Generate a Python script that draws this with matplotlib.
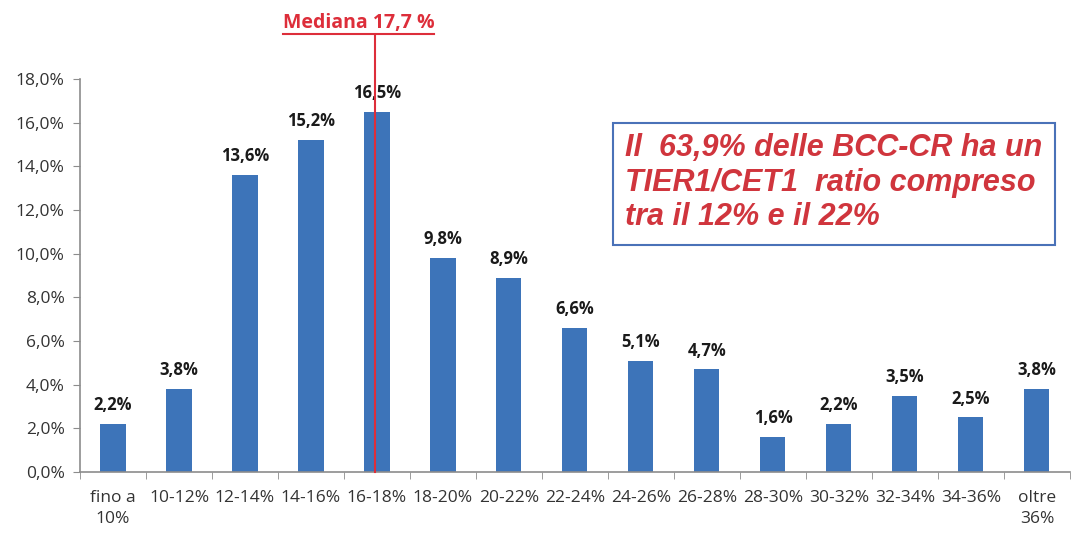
import matplotlib
matplotlib.use("Agg")
import matplotlib.pyplot as plt
from matplotlib.ticker import FixedLocator

plt.rcParams['font.family'] = ['Open Sans', 'DejaVu Sans']

categorie = ['fino a\n10%', '10-12%', '12-14%', '14-16%', '16-18%', '18-20%', '20-22%',
             '22-24%', '24-26%', '26-28%', '28-30%', '30-32%', '32-34%', '34-36%', 'oltre\n36%']
quote = [2.2, 3.8, 13.6, 15.2, 16.5, 9.8, 8.9, 6.6, 5.1, 4.7, 1.6, 2.2, 3.5, 2.5, 3.8]
etichette = ['2,2%', '3,8%', '13,6%', '15,2%', '16,5%', '9,8%', '8,9%', '6,6%', '5,1%',
             '4,7%', '1,6%', '2,2%', '3,5%', '2,5%', '3,8%']
y_ticks = [0, 2, 4, 6, 8, 10, 12, 14, 16, 18]
y_labels = ['0,0%', '2,0%', '4,0%', '6,0%', '8,0%', '10,0%', '12,0%', '14,0%', '16,0%', '18,0%']
mediana_pos = 3.97   # posizione della linea della mediana (classe 16-18%)
mediana_txt = 'Mediana 17,7 %'
box_txt = 'Il  63,9% delle BCC-CR ha un\nTIER1/CET1  ratio compreso\ntra il 12% e il 22%'

blu = '#3d74b9'
rosso = '#dd2e3a'
grigio = '#8c8c8c'

fig = plt.figure(figsize=(10.84, 5.33), dpi=100)
ax = fig.add_axes([0.0738, 0.1144, 0.9132, 0.7376])

x = range(len(categorie))
ax.bar(x, quote, width=0.38, color=blu, zorder=2)

for xi, v, lab in zip(x, quote, etichette):
    ax.annotate(lab, (xi, v), xytext=(0, 7), textcoords='offset points',
                ha='center', va='bottom', fontsize=12, fontweight='bold', color='#1a1a1a')

ax.set_xlim(-0.5, len(categorie) - 0.5)
ax.set_ylim(0, 18)
ax.set_yticks(y_ticks)
ax.set_yticklabels(y_labels, fontsize=12.5, color='#333333')
ax.set_xticks(list(x))
ax.set_xticklabels(categorie, fontsize=12.5, color='#333333', linespacing=1.4)
ax.xaxis.set_minor_locator(FixedLocator([i - 0.5 for i in range(len(categorie) + 1)]))
ax.tick_params(axis='x', which='major', length=0, pad=13)
ax.tick_params(axis='x', which='minor', length=5, color=grigio, direction='out')
ax.tick_params(axis='y', length=5, color=grigio, direction='out', pad=6)

for s in ['top', 'right']:
    ax.spines[s].set_visible(False)
for s in ['left', 'bottom']:
    ax.spines[s].set_color(grigio)
    ax.spines[s].set_linewidth(1.2)

# linea della mediana
ax.plot([mediana_pos, mediana_pos], [0, 20.0], color=rosso, lw=1.5, clip_on=False, zorder=5)
t = ax.text(mediana_pos - 0.25, 20.1, mediana_txt, ha='center', va='bottom',
            fontsize=14, fontweight='bold', color=rosso, clip_on=False)

# riquadro con il commento
fig.text(0.5766, 0.657, box_txt, ha='left', va='center',
         fontsize=22, fontweight='bold', style='italic', color='#d0353d',
         family=['Liberation Sans', 'DejaVu Sans'], linespacing=1.2)
rett = plt.Rectangle((0.5655, 0.5403), 0.4077, 0.2289, transform=fig.transFigure,
                     fill=False, edgecolor='#4a72b8', lw=1.5)
fig.patches.append(rett)

# sottolineatura del testo della mediana
fig.canvas.draw()
bb = t.get_window_extent().transformed(fig.transFigure.inverted())
fig.add_artist(plt.Line2D([bb.x0, bb.x1], [bb.y0 - 0.002, bb.y0 - 0.002],
                          transform=fig.transFigure, color=rosso, lw=1.5))

fig.savefig('out.png', dpi=100, facecolor='white')
